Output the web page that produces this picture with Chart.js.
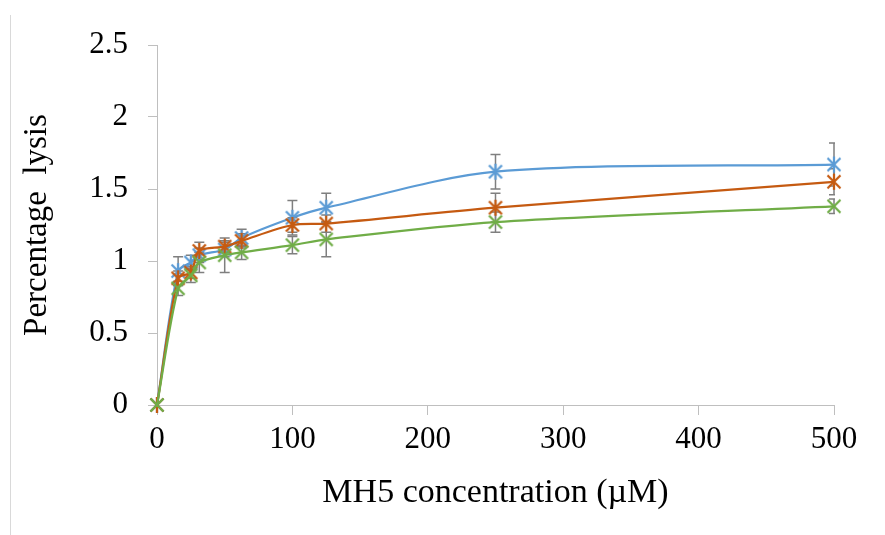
<!DOCTYPE html>
<html><head><meta charset="utf-8">
<script src="https://cdn.jsdelivr.net/npm/chart.js@4/dist/chart.umd.min.js"></script>
<style>html,body{margin:0;padding:0;background:#fff;}</style>
</head><body>
<canvas id="c" width="885" height="535"></canvas>
<script>
const concentrations = [0, 15.6, 25, 31.25, 50, 62.5, 100, 125, 250, 500];
const seriesBlue   = [0, 0.93, 0.99, 1.04, 1.08, 1.16, 1.30, 1.37, 1.62, 1.67];
const seriesOrange = [0, 0.88, 0.92, 1.07, 1.10, 1.14, 1.25, 1.26, 1.37, 1.55];
const seriesGreen  = [0, 0.81, 0.90, 0.99, 1.04, 1.06, 1.11, 1.15, 1.27, 1.38];
const errorsBlue   = [0, 0.10, 0.05, 0.05, 0.05, 0.06, 0.12, 0.10, 0.12, 0.15];
const errorsOrange = [0, 0.05, 0.04, 0.06, 0.04, 0.05, 0.05, 0.06, 0.10, 0.09];
const errorsGreen  = [0, 0.05, 0.05, 0.07, 0.12, 0.05, 0.06, 0.12, 0.07, 0.05];
const xTickValues = [0, 100, 200, 300, 400, 500];
const yTickValues = [0, 0.5, 1, 1.5, 2, 2.5];
const xTitle = 'MH5 concentration (\u00b5M)';
const yTitle = 'Percentage  lysis';

const FONT = '"Liberation Serif", "Times New Roman", serif';
const BLUE = '#5B9BD5', ORANGE = '#C55A11', GREEN = '#70AD47';

function makeMarker(color, star) {
  const c = document.createElement('canvas');
  c.width = 22; c.height = 22;
  const g = c.getContext('2d');
  g.strokeStyle = color; g.lineWidth = 2.25;
  g.beginPath();
  g.moveTo(11 - 6.5, 11 - 6.5); g.lineTo(11 + 6.5, 11 + 6.5);
  g.moveTo(11 + 6.5, 11 - 6.5); g.lineTo(11 - 6.5, 11 + 6.5);
  if (star) { g.moveTo(11, 11 - 8); g.lineTo(11, 11 + 8); }
  g.stroke();
  return c;
}

function pts(vals) { return concentrations.map((x, i) => ({x: x, y: vals[i]})); }

const errorSets = [errorsGreen, errorsOrange, errorsBlue];

const errorBarPlugin = {
  id: 'errorBars',
  beforeDatasetsDraw(chart) {
    const {ctx, chartArea, scales: {x, y}} = chart;
    ctx.save();
    ctx.beginPath();
    ctx.rect(chartArea.left - 20, chartArea.top - 20, chartArea.right - chartArea.left + 21, chartArea.bottom - chartArea.top + 40);
    ctx.clip();
    ctx.strokeStyle = '#7F7F7F';
    ctx.lineWidth = 1.5;
    chart.data.datasets.forEach((ds, di) => {
      const errs = errorSets[di];
      ds.data.forEach((p, j) => {
        const e = errs[j];
        if (!e) return;
        const px = x.getPixelForValue(p.x);
        const yt = y.getPixelForValue(p.y + e);
        const yb = y.getPixelForValue(p.y - e);
        ctx.beginPath();
        ctx.moveTo(px, yt); ctx.lineTo(px, yb);
        ctx.moveTo(px - 5, yt); ctx.lineTo(px + 5, yt);
        ctx.moveTo(px - 5, yb); ctx.lineTo(px + 5, yb);
        ctx.stroke();
      });
    });
    ctx.restore();
  }
};

const framePlugin = {
  id: 'frame',
  beforeDraw(chart) {
    const ctx = chart.ctx;
    ctx.save();
    ctx.fillStyle = '#fff';
    ctx.fillRect(0, 0, chart.width, chart.height);
    ctx.strokeStyle = '#D9D9D9';
    ctx.lineWidth = 1;
    ctx.beginPath();
    ctx.moveTo(10.5, 15); ctx.lineTo(10.5, 535);
    ctx.stroke();
    ctx.restore();
  }
};

function ds(label, vals, color, star) {
  return {
    label: label,
    data: pts(vals),
    borderColor: color,
    backgroundColor: color,
    borderWidth: 2.25,
    tension: 0.3,
    pointStyle: makeMarker(color, star),
    pointRadius: 8,
    pointHoverRadius: 8,
    clip: false
  };
}

const fmt = v => String(v);

new Chart(document.getElementById('c'), {
  type: 'line',
  data: {
    datasets: [
      ds('Series 3', seriesGreen, GREEN, false),
      ds('Series 2', seriesOrange, ORANGE, true),
      ds('Series 1', seriesBlue, BLUE, true)
    ]
  },
  options: {
    responsive: false,
    animation: false,
    events: [],
    layout: { padding: { left: 0, top: 45, right: 51, bottom: 0 } },
    plugins: { legend: { display: false }, tooltip: { enabled: false } },
    scales: {
      x: {
        type: 'linear', min: 0, max: 500,
        afterBuildTicks(scale) { scale.ticks = xTickValues.map(v => ({value: v})); },
        afterFit(scale) { scale.height = 130; },
        ticks: { color: '#000', font: { family: FONT, size: 31 }, padding: 6, maxRotation: 0, callback: fmt },
        grid: { display: true, drawOnChartArea: false, drawTicks: true, tickLength: 10, color: '#BFBFBF', lineWidth: 1 },
        border: { display: true, color: '#BFBFBF', width: 1 },
        title: { display: true, text: xTitle, color: '#000', font: { family: FONT, size: 34 }, padding: { top: 0, bottom: 22 } }
      },
      y: {
        type: 'linear', min: 0, max: 2.5,
        afterBuildTicks(scale) { scale.ticks = yTickValues.map(v => ({value: v})); },
        afterFit(scale) { scale.width = 157; },
        ticks: { color: '#000', font: { family: FONT, size: 31 }, padding: 20, callback: fmt },
        grid: { display: true, drawOnChartArea: false, drawTicks: true, tickLength: 9, color: '#BFBFBF', lineWidth: 1 },
        border: { display: true, color: '#BFBFBF', width: 1 },
        title: { display: true, text: yTitle, color: '#000', font: { family: FONT, size: 33 }, padding: { top: 18, bottom: 0 } }
      }
    }
  },
  plugins: [framePlugin, errorBarPlugin]
});
</script>
</body></html>
